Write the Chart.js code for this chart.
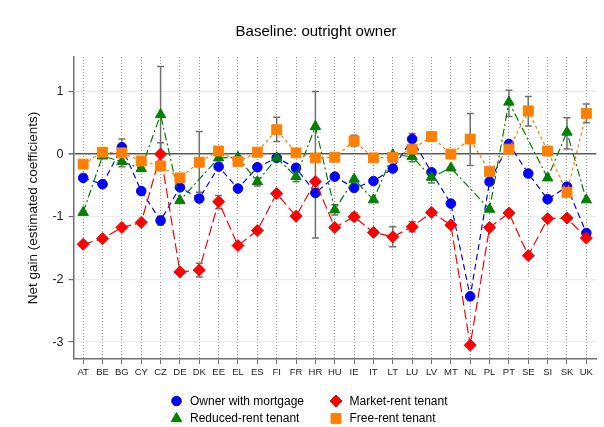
<!DOCTYPE html>
<html>
<head>
<meta charset="utf-8">
<script src="https://cdn.jsdelivr.net/npm/chart.js@4/dist/chart.umd.min.js"></script>
<style>
  html, body { margin: 0; padding: 0; background: #ffffff; }
  #wrap { width: 604px; height: 427px; position: relative; }
</style>
</head>
<body>
<div id="wrap"><canvas id="c" width="604" height="427"></canvas></div>
<script>
// Country codes along the x axis
const countries = ['AT','BE','BG','CY','CZ','DE','DK','EE','EL','ES','FI','FR','HR','HU','IE','IT','LT','LU','LV','MT','NL','PL','PT','SE','SI','SK','UK'];

// Estimated coefficients by tenure status
const ownerMortgage = [-0.38,-0.48,0.11,-0.59,-1.06,-0.53,-0.71,-0.20,-0.55,-0.21,-0.06,-0.22,-0.62,-0.36,-0.54,-0.43,-0.23,0.24,-0.29,-0.79,-2.27,-0.44,0.16,-0.31,-0.72,-0.52,-1.26];
const marketRent    = [-1.44,-1.35,-1.17,-1.09,0.00,-1.88,-1.85,-0.76,-1.46,-1.22,-0.63,-0.99,-0.44,-1.17,-1.00,-1.25,-1.32,-1.16,-0.93,-1.13,-3.05,-1.17,-0.94,-1.62,-1.03,-1.02,-1.34];
const reducedRent   = [-0.93,-0.03,-0.12,-0.23,0.63,-0.74,null,-0.06,-0.05,-0.44,-0.06,-0.36,0.44,-0.89,-0.40,-0.73,-0.01,-0.04,-0.37,-0.22,null,-0.88,0.83,null,-0.38,0.35,-0.73];
const freeRent      = [-0.16,0.03,0.02,-0.11,-0.19,-0.38,-0.13,0.05,-0.12,0.03,0.39,0.02,-0.06,-0.05,0.21,-0.06,-0.05,0.08,0.28,0.00,0.24,-0.28,0.08,0.69,0.05,-0.61,0.65];

// Confidence intervals [low, high] where shown
const ownerMortgageCI = [null,null,[-0.02,0.24],null,[-1.13,-0.99],null,[-0.76,-0.66],null,null,null,null,[-0.28,-0.16],null,null,null,null,null,[0.15,0.33],null,null,null,null,[0.12,0.20],null,null,null,null];
const marketRentCI    = [null,null,null,null,[-0.18,0.18],null,[-1.96,-1.74],[-0.87,-0.66],null,null,null,null,null,null,[-1.06,-0.94],null,[-1.48,-1.16],[-1.24,-1.08],null,null,null,null,null,null,null,null,null];
const reducedRentCI   = [null,null,[-0.20,-0.04],null,[-0.14,1.40],null,null,null,null,[-0.51,-0.38],null,[-0.44,-0.28],null,[-0.97,-0.81],null,null,null,[-0.12,0.03],[-0.46,-0.28],null,null,null,[0.60,1.02],null,null,[0.08,0.58],null];
const freeRentCI      = [null,null,null,null,null,null,[-0.61,0.36],[0.00,0.10],null,null,[0.20,0.59],null,[-1.34,1.00],null,[0.13,0.30],null,null,null,[0.21,0.34],null,[-0.18,0.65],null,null,[0.45,0.92],null,null,[0.50,0.80]];

// Axis ticks
const yTicks = [-3, -2, -1, 0, 1];
const yMin = -3.27, yMax = 1.55;

const FONT = "'Liberation Sans', Arial, sans-serif";

const series = [
  { label: 'Owner with mortgage', data: ownerMortgage, ci: ownerMortgageCI, color: '#0000ff', style: 'circle',   radius: 4.8, dash: [6, 4],       order: 3 },
  { label: 'Market-rent tenant',  data: marketRent,    ci: marketRentCI,    color: '#ff0000', style: 'rectRot',  radius: 6,   dash: [10, 4],      order: 2 },
  { label: 'Reduced-rent tenant', data: reducedRent,   ci: reducedRentCI,   color: '#008000', style: 'triangle', radius: 6,   dash: [8, 3, 2, 3], order: 1 },
  { label: 'Free-rent tenant',    data: freeRent,      ci: freeRentCI,      color: '#ff8000', style: 'rect',     radius: 7,   dash: [3, 3],       order: 0 }
];

// Draws the confidence interval whiskers under the series
const ciPlugin = {
  id: 'ciWhiskers',
  beforeDatasetsDraw(chart) {
    const ctx = chart.ctx;
    const xs = chart.scales.x, ys = chart.scales.y;
    ctx.save();
    ctx.strokeStyle = '#707070';
    ctx.lineWidth = 1.5;
    series.forEach(s => {
      s.ci.forEach((ci, i) => {
        if (!ci) return;
        const x = xs.getPixelForValue(i);
        const y0 = ys.getPixelForValue(ci[0]);
        const y1 = ys.getPixelForValue(ci[1]);
        ctx.beginPath();
        ctx.moveTo(x, y0); ctx.lineTo(x, y1);
        ctx.moveTo(x - 3.5, y0); ctx.lineTo(x + 3.5, y0);
        ctx.moveTo(x - 3.5, y1); ctx.lineTo(x + 3.5, y1);
        ctx.stroke();
      });
    });
    ctx.restore();
  }
};

// Title and two-column legend
const decorPlugin = {
  id: 'decor',
  afterDraw(chart) {
    const ctx = chart.ctx;
    ctx.save();
    ctx.fillStyle = '#000';
    ctx.font = '15px ' + FONT;
    ctx.textAlign = 'center';
    ctx.textBaseline = 'middle';
    ctx.fillText('Baseline: outright owner', 316, 32);

    const cols = [176.5, 336];
    const rows = [401, 418.5];
    const orderInLegend = [0, 1, 2, 3];
    ctx.font = '12px ' + FONT;
    ctx.textAlign = 'left';
    orderInLegend.forEach((k, idx) => {
      const s = series[k];
      const cx = cols[idx % 2], cy = rows[Math.floor(idx / 2)];
      ctx.fillStyle = s.color;
      ctx.strokeStyle = s.color;
      Chart.helpers.drawPoint(ctx, { pointStyle: s.style, radius: s.radius, rotation: 0, borderWidth: 1 }, cx, cy);
      ctx.fillStyle = '#000';
      ctx.fillText(s.label, cx + 13.5, cy + 0.5);
    });
    ctx.restore();
  }
};

const chart = new Chart(document.getElementById('c'), {
  type: 'line',
  data: {
    labels: countries,
    datasets: series.map(s => ({
      label: s.label,
      data: s.data,
      order: s.order,
      borderColor: s.color,
      backgroundColor: s.color,
      borderWidth: 1.2,
      borderDash: s.dash,
      pointStyle: s.style,
      pointRadius: s.radius,
      pointHoverRadius: s.radius,
      pointBackgroundColor: s.color,
      pointBorderColor: s.color,
      pointBorderWidth: 1,
      spanGaps: true,
      tension: 0,
      fill: false
    }))
  },
  options: {
    responsive: false,
    animation: false,
    events: [],
    layout: { padding: { top: 57, right: 0, bottom: 43, left: 0 } },
    plugins: {
      legend: { display: false },
      title: { display: false },
      tooltip: { enabled: false }
    },
    scales: {
      x: {
        type: 'category',
        offset: true,
        afterFit(scale) { scale.height = 25; },
        grid: {
          display: true,
          offset: false,
          color: '#9a9a9a',
          lineWidth: 1,
          tickColor: '#707070',
          tickLength: 5,
          tickBorderDash: [],
          drawTicks: true
        },
        border: { display: true, color: '#707070', width: 1.5, dash: [1, 2] },
        ticks: { color: '#222', font: { family: FONT, size: 9.5 }, padding: 3, autoSkip: false, maxRotation: 0 }
      },
      y: {
        min: yMin,
        max: yMax,
        afterFit(scale) { scale.width = 73.5; },
        afterBuildTicks(scale) { scale.ticks = yTicks.map(v => ({ value: v })); },
        grid: {
          color: ctx => (ctx.tick && ctx.tick.value === 0) ? '#5a5a5a' : '#e6edf0',
          lineWidth: ctx => (ctx.tick && ctx.tick.value === 0) ? 1.6 : 1.2,
          tickColor: '#707070',
          tickLength: 5
        },
        border: { display: true, color: '#707070', width: 1.5 },
        ticks: { color: '#222', font: { family: FONT, size: 12.5 }, padding: 5 },
        title: {
          display: true,
          text: 'Net gain (estimated coefficients)',
          color: '#111',
          font: { family: FONT, size: 13.5 },
          padding: { top: 25, bottom: 0 }
        }
      }
    }
  },
  plugins: [ciPlugin, decorPlugin]
});
</script>
</body>
</html>
